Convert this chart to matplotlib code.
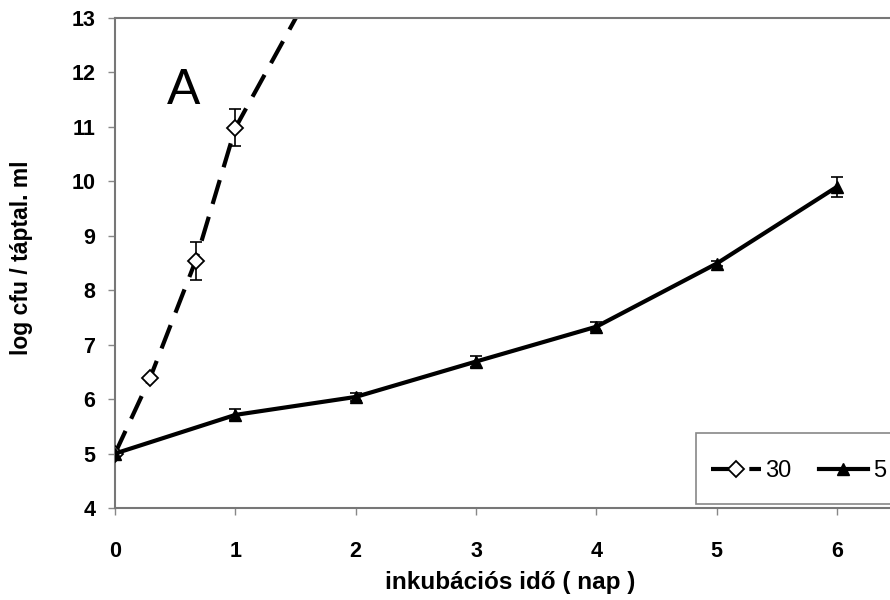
import matplotlib
matplotlib.use("Agg")
import matplotlib.pyplot as plt
from matplotlib.patches import Rectangle
from matplotlib import font_manager as fm

# ---- data ----
x_30 = [0, 0.29, 0.67, 1.0]
y_30 = [5.0, 6.38, 8.54, 10.98]
e_30 = [0, 0, 0.35, 0.34]
x_30_ext = [1.0, 2.0]          # dashed continuation beyond last point
y_30_ext = [10.98, 15.0]

x_5 = [0, 1, 2, 3, 4, 5, 6]
y_5 = [5.0, 5.71, 6.04, 6.69, 7.33, 8.49, 9.9]
e_5 = [0.05, 0.1, 0.08, 0.1, 0.08, 0.05, 0.18]

xticks = [0, 1, 2, 3, 4, 5, 6]
yticks = [4, 5, 6, 7, 8, 9, 10, 11, 12, 13]
labels = ["30", "5"]

installed = {f.name for f in fm.fontManager.ttflist}
narrow = "Liberation Sans Narrow" if "Liberation Sans Narrow" in installed else "Liberation Sans"
sans = "Liberation Sans"

fig = plt.figure(figsize=(8.9, 6.0), dpi=100)
ax = fig.add_axes([115/890, 1-508/600, 1-115/890, (508-18)/600])

# dashed 30 series
ax.plot(x_30 + x_30_ext[1:], y_30 + y_30_ext[1:], color="black", lw=3,
        dashes=(6, 3.2), zorder=2)
ax.errorbar(x_30, y_30, yerr=e_30, fmt="none", ecolor="black", elinewidth=1.2,
            capsize=4, capthick=1.2, zorder=3)
ax.plot(x_30, y_30, linestyle="none", marker="D", ms=8, mfc="white",
        mec="black", mew=1.3, zorder=4)

# solid 5 series
ax.errorbar(x_5, y_5, yerr=e_5, fmt="none", ecolor="black", elinewidth=1.2,
            capsize=4, capthick=1.2, zorder=3)
ax.plot(x_5, y_5, color="black", lw=3, marker="^", ms=8, mfc="black",
        mec="black", zorder=4)

# legend frame (extends beyond the cropped right edge)
ax.add_patch(Rectangle((0.75, 0.008), 0.4, 0.145, transform=ax.transAxes,
                       facecolor="white", edgecolor="#888888", lw=1.2,
                       clip_on=False, zorder=5))
h1, = ax.plot([], [], color="black", lw=3, dashes=(6, 3.2), marker="D", ms=8,
              mfc="white", mec="black", mew=1.3)
h2, = ax.plot([], [], color="black", lw=3, marker="^", ms=8, mfc="black")
leg = ax.legend([h1, h2], labels, ncol=2, loc="center left",
                bbox_to_anchor=((711-115)/775, (508-471)/490),
                prop={"family": sans, "size": 17}, frameon=False,
                handlelength=2.1, handletextpad=0.2, columnspacing=1.15,
                borderpad=0, borderaxespad=0)
leg.set_zorder(6)

ax.set_xlim(0, 6.44)
ax.set_ylim(4, 13)
ax.set_xticks(xticks)
ax.set_yticks(yticks)
ax.set_xticklabels([str(v) for v in xticks], family=narrow, fontweight="bold", fontsize=15.5)
ax.set_yticklabels([str(v) for v in yticks], family=narrow, fontweight="bold", fontsize=15.5)
ax.tick_params(axis="x", direction="out", length=5, width=1, color="#888888", pad=19)
ax.tick_params(axis="y", direction="out", length=5, width=1, color="#888888", pad=9)

for s in ["left", "bottom", "top"]:
    ax.spines[s].set_color("#777777")
    ax.spines[s].set_linewidth(1.5)
ax.spines["right"].set_visible(False)

ax.text(0.57, 11.66, "A", family=sans, fontsize=36, ha="center", va="center")

fig.text(22/890, 1-258/600, "log cfu / táptal. ml", rotation=90, ha="center",
         va="center", family=sans, fontweight="bold", fontsize=16.5)
fig.text(510/890, 1-583/600, "inkubációs idő ( nap )", ha="center", va="center",
         family=sans, fontweight="bold", fontsize=17.5)

fig.savefig("out.png", dpi=100)
